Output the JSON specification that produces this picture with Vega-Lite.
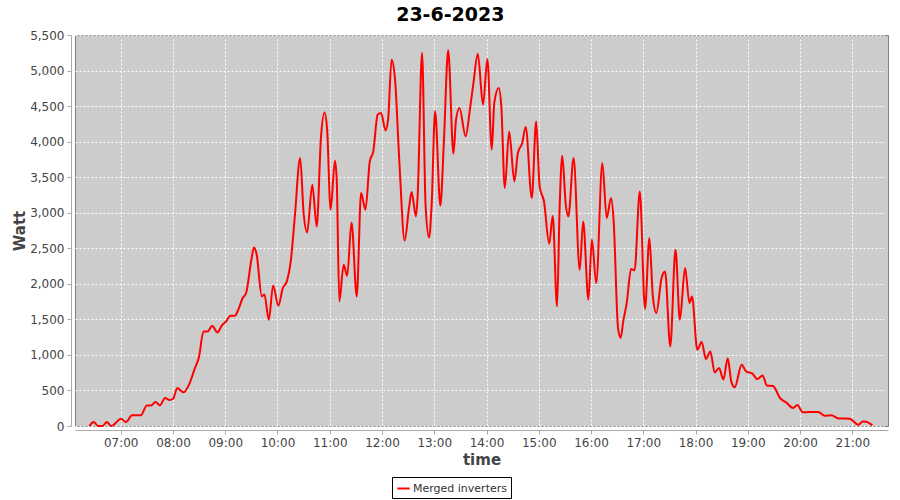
{
  "$schema": "https://vega.github.io/schema/vega-lite/v6.json",
  "autosize": {"type": "none"},
  "width": 813,
  "height": 391,
  "padding": {"left": 75, "top": 35, "right": 12, "bottom": 74},
  "background": "white",
  "title": {"text": "23-6-2023", "anchor": "middle", "frame": "bounds", "font": "DejaVu Sans", "fontSize": 19, "fontWeight": "bold", "color": "black", "offset": 4},
  "config": {
    "view": {"fill": "#cccccc", "stroke": "#808080", "strokeWidth": 1},
    "axis": {"labelFont": "DejaVu Sans", "labelFontSize": 12, "labelColor": "#444444", "titleFont": "DejaVu Sans", "titleFontSize": 15, "titleFontWeight": "bold", "titleColor": "#444444", "domainColor": "#aaaaaa", "tickColor": "#aaaaaa", "tickSize": 4, "gridColor": "white", "gridDash": [2, 2], "gridOpacity": 1, "gridWidth": 1, "offset": 4}
  },
  "data": {"values": [
    {"t": "2023-06-23T06:24:00", "w": 0},
    {"t": "2023-06-23T06:29:00", "w": 56},
    {"t": "2023-06-23T06:34:00", "w": 0},
    {"t": "2023-06-23T06:39:00", "w": 0},
    {"t": "2023-06-23T06:44:00", "w": 56},
    {"t": "2023-06-23T06:49:00", "w": 0},
    {"t": "2023-06-23T06:54:00", "w": 40},
    {"t": "2023-06-23T07:00:00", "w": 103},
    {"t": "2023-06-23T07:06:00", "w": 56},
    {"t": "2023-06-23T07:13:00", "w": 150},
    {"t": "2023-06-23T07:23:00", "w": 150},
    {"t": "2023-06-23T07:30:00", "w": 290},
    {"t": "2023-06-23T07:35:00", "w": 290},
    {"t": "2023-06-23T07:40:00", "w": 337},
    {"t": "2023-06-23T07:45:00", "w": 290},
    {"t": "2023-06-23T07:51:00", "w": 394},
    {"t": "2023-06-23T07:56:00", "w": 366},
    {"t": "2023-06-23T08:00:00", "w": 380},
    {"t": "2023-06-23T08:05:00", "w": 534},
    {"t": "2023-06-23T08:12:00", "w": 473},
    {"t": "2023-06-23T08:18:00", "w": 571},
    {"t": "2023-06-23T08:25:00", "w": 806},
    {"t": "2023-06-23T08:30:00", "w": 979},
    {"t": "2023-06-23T08:35:00", "w": 1331},
    {"t": "2023-06-23T08:40:00", "w": 1331},
    {"t": "2023-06-23T08:45:00", "w": 1411},
    {"t": "2023-06-23T08:51:00", "w": 1317},
    {"t": "2023-06-23T08:56:00", "w": 1411},
    {"t": "2023-06-23T09:01:00", "w": 1471},
    {"t": "2023-06-23T09:06:00", "w": 1551},
    {"t": "2023-06-23T09:11:00", "w": 1551},
    {"t": "2023-06-23T09:15:00", "w": 1636},
    {"t": "2023-06-23T09:20:00", "w": 1800},
    {"t": "2023-06-23T09:24:00", "w": 1871},
    {"t": "2023-06-23T09:30:00", "w": 2339},
    {"t": "2023-06-23T09:33:00", "w": 2512},
    {"t": "2023-06-23T09:36:00", "w": 2420},
    {"t": "2023-06-23T09:42:00", "w": 1823},
    {"t": "2023-06-23T09:45:00", "w": 1850},
    {"t": "2023-06-23T09:50:00", "w": 1495},
    {"t": "2023-06-23T09:55:00", "w": 1978},
    {"t": "2023-06-23T10:01:00", "w": 1692},
    {"t": "2023-06-23T10:06:00", "w": 1935},
    {"t": "2023-06-23T10:11:00", "w": 2045},
    {"t": "2023-06-23T10:15:00", "w": 2293},
    {"t": "2023-06-23T10:20:00", "w": 2960},
    {"t": "2023-06-23T10:26:00", "w": 3770},
    {"t": "2023-06-23T10:30:00", "w": 2996},
    {"t": "2023-06-23T10:34:00", "w": 2723},
    {"t": "2023-06-23T10:40:00", "w": 3394},
    {"t": "2023-06-23T10:45:00", "w": 2808},
    {"t": "2023-06-23T10:50:00", "w": 4074},
    {"t": "2023-06-23T10:54:00", "w": 4411},
    {"t": "2023-06-23T10:57:00", "w": 4168},
    {"t": "2023-06-23T11:01:00", "w": 3043},
    {"t": "2023-06-23T11:06:00", "w": 3732},
    {"t": "2023-06-23T11:08:00", "w": 3465},
    {"t": "2023-06-23T11:11:00", "w": 1753},
    {"t": "2023-06-23T11:16:00", "w": 2269},
    {"t": "2023-06-23T11:20:00", "w": 2114},
    {"t": "2023-06-23T11:25:00", "w": 2864},
    {"t": "2023-06-23T11:31:00", "w": 1823},
    {"t": "2023-06-23T11:36:00", "w": 3277},
    {"t": "2023-06-23T11:41:00", "w": 3043},
    {"t": "2023-06-23T11:46:00", "w": 3722},
    {"t": "2023-06-23T11:50:00", "w": 3863},
    {"t": "2023-06-23T11:55:00", "w": 4379},
    {"t": "2023-06-23T11:59:00", "w": 4403},
    {"t": "2023-06-23T12:04:00", "w": 4158},
    {"t": "2023-06-23T12:07:00", "w": 4309},
    {"t": "2023-06-23T12:11:00", "w": 5153},
    {"t": "2023-06-23T12:15:00", "w": 4871},
    {"t": "2023-06-23T12:20:00", "w": 3700},
    {"t": "2023-06-23T12:26:00", "w": 2611},
    {"t": "2023-06-23T12:31:00", "w": 3067},
    {"t": "2023-06-23T12:34:00", "w": 3292},
    {"t": "2023-06-23T12:39:00", "w": 2948},
    {"t": "2023-06-23T12:41:00", "w": 3254},
    {"t": "2023-06-23T12:46:00", "w": 5250},
    {"t": "2023-06-23T12:50:00", "w": 3113},
    {"t": "2023-06-23T12:54:00", "w": 2650},
    {"t": "2023-06-23T12:57:00", "w": 3113},
    {"t": "2023-06-23T13:01:00", "w": 4426},
    {"t": "2023-06-23T13:07:00", "w": 3100},
    {"t": "2023-06-23T13:11:00", "w": 3981},
    {"t": "2023-06-23T13:16:00", "w": 5284},
    {"t": "2023-06-23T13:22:00", "w": 3830},
    {"t": "2023-06-23T13:25:00", "w": 4309},
    {"t": "2023-06-23T13:29:00", "w": 4473},
    {"t": "2023-06-23T13:36:00", "w": 4074},
    {"t": "2023-06-23T13:41:00", "w": 4459},
    {"t": "2023-06-23T13:45:00", "w": 4825},
    {"t": "2023-06-23T13:50:00", "w": 5237},
    {"t": "2023-06-23T13:56:00", "w": 4520},
    {"t": "2023-06-23T14:01:00", "w": 5163},
    {"t": "2023-06-23T14:06:00", "w": 3887},
    {"t": "2023-06-23T14:09:00", "w": 4552},
    {"t": "2023-06-23T14:14:00", "w": 4755},
    {"t": "2023-06-23T14:17:00", "w": 4496},
    {"t": "2023-06-23T14:21:00", "w": 3348},
    {"t": "2023-06-23T14:26:00", "w": 4144},
    {"t": "2023-06-23T14:32:00", "w": 3441},
    {"t": "2023-06-23T14:36:00", "w": 3840},
    {"t": "2023-06-23T14:41:00", "w": 3981},
    {"t": "2023-06-23T14:45:00", "w": 4206},
    {"t": "2023-06-23T14:52:00", "w": 3207},
    {"t": "2023-06-23T14:57:00", "w": 4285},
    {"t": "2023-06-23T15:01:00", "w": 3370},
    {"t": "2023-06-23T15:06:00", "w": 3159},
    {"t": "2023-06-23T15:12:00", "w": 2564},
    {"t": "2023-06-23T15:16:00", "w": 2958},
    {"t": "2023-06-23T15:21:00", "w": 1682},
    {"t": "2023-06-23T15:24:00", "w": 3089},
    {"t": "2023-06-23T15:27:00", "w": 3802},
    {"t": "2023-06-23T15:31:00", "w": 3113},
    {"t": "2023-06-23T15:34:00", "w": 2948},
    {"t": "2023-06-23T15:40:00", "w": 3770},
    {"t": "2023-06-23T15:47:00", "w": 2199},
    {"t": "2023-06-23T15:51:00", "w": 2878},
    {"t": "2023-06-23T15:57:00", "w": 1777},
    {"t": "2023-06-23T16:01:00", "w": 2621},
    {"t": "2023-06-23T16:06:00", "w": 2011},
    {"t": "2023-06-23T16:13:00", "w": 3700},
    {"t": "2023-06-23T16:18:00", "w": 2926},
    {"t": "2023-06-23T16:23:00", "w": 3207},
    {"t": "2023-06-23T16:26:00", "w": 2878},
    {"t": "2023-06-23T16:31:00", "w": 1379},
    {"t": "2023-06-23T16:34:00", "w": 1238},
    {"t": "2023-06-23T16:37:00", "w": 1471},
    {"t": "2023-06-23T16:41:00", "w": 1730},
    {"t": "2023-06-23T16:46:00", "w": 2208},
    {"t": "2023-06-23T16:50:00", "w": 2189},
    {"t": "2023-06-23T16:56:00", "w": 3300},
    {"t": "2023-06-23T17:02:00", "w": 1646},
    {"t": "2023-06-23T17:07:00", "w": 2645},
    {"t": "2023-06-23T17:11:00", "w": 1823},
    {"t": "2023-06-23T17:15:00", "w": 1590},
    {"t": "2023-06-23T17:21:00", "w": 2082},
    {"t": "2023-06-23T17:25:00", "w": 2175},
    {"t": "2023-06-23T17:31:00", "w": 1120},
    {"t": "2023-06-23T17:37:00", "w": 2480},
    {"t": "2023-06-23T17:42:00", "w": 1495},
    {"t": "2023-06-23T17:48:00", "w": 2222},
    {"t": "2023-06-23T17:53:00", "w": 1730},
    {"t": "2023-06-23T17:56:00", "w": 1823},
    {"t": "2023-06-23T18:02:00", "w": 1073},
    {"t": "2023-06-23T18:07:00", "w": 1183},
    {"t": "2023-06-23T18:12:00", "w": 942},
    {"t": "2023-06-23T18:17:00", "w": 1049},
    {"t": "2023-06-23T18:22:00", "w": 754},
    {"t": "2023-06-23T18:27:00", "w": 816},
    {"t": "2023-06-23T18:32:00", "w": 655},
    {"t": "2023-06-23T18:37:00", "w": 952},
    {"t": "2023-06-23T18:41:00", "w": 628},
    {"t": "2023-06-23T18:45:00", "w": 545},
    {"t": "2023-06-23T18:53:00", "w": 862},
    {"t": "2023-06-23T18:58:00", "w": 768},
    {"t": "2023-06-23T19:05:00", "w": 740},
    {"t": "2023-06-23T19:11:00", "w": 660},
    {"t": "2023-06-23T19:17:00", "w": 712},
    {"t": "2023-06-23T19:22:00", "w": 569},
    {"t": "2023-06-23T19:29:00", "w": 562},
    {"t": "2023-06-23T19:37:00", "w": 394},
    {"t": "2023-06-23T19:44:00", "w": 332},
    {"t": "2023-06-23T19:52:00", "w": 253},
    {"t": "2023-06-23T19:57:00", "w": 295},
    {"t": "2023-06-23T20:03:00", "w": 192},
    {"t": "2023-06-23T20:11:00", "w": 197},
    {"t": "2023-06-23T20:21:00", "w": 197},
    {"t": "2023-06-23T20:28:00", "w": 145},
    {"t": "2023-06-23T20:36:00", "w": 150},
    {"t": "2023-06-23T20:44:00", "w": 107},
    {"t": "2023-06-23T20:57:00", "w": 103},
    {"t": "2023-06-23T21:07:00", "w": 18},
    {"t": "2023-06-23T21:12:00", "w": 65},
    {"t": "2023-06-23T21:16:00", "w": 60},
    {"t": "2023-06-23T21:23:00", "w": 8}
  ]},
  "mark": {"type": "line", "strokeWidth": 2, "interpolate": "monotone"},
  "encoding": {
    "x": {
      "field": "t", "type": "temporal", "title": "time",
      "scale": {"domain": [
        {"year": 2023, "month": 6, "date": 23, "hours": 6, "minutes": 7, "seconds": 30},
        {"year": 2023, "month": 6, "date": 23, "hours": 21, "minutes": 41}
      ], "nice": false},
      "axis": {"format": "%H:%M", "tickCount": 16, "labelPadding": 3, "titlePadding": 4}
    },
    "y": {
      "field": "w", "type": "quantitative", "title": "Watt",
      "scale": {"domain": [0, 5500], "nice": false},
      "axis": {"tickCount": 11, "format": ",d", "labelPadding": 3, "titlePadding": 2}
    },
    "color": {
      "datum": "Merged inverters",
      "scale": {"range": ["#ff0000"]},
      "legend": {"title": null, "orient": "none", "legendX": 317, "legendY": 442, "symbolType": "stroke", "symbolStrokeWidth": 2, "symbolSize": 150, "labelFont": "DejaVu Sans", "labelFontSize": 11, "labelColor": "#333333", "labelOffset": 2, "strokeColor": "black", "fillColor": "white", "padding": 4}
    }
  }
}
